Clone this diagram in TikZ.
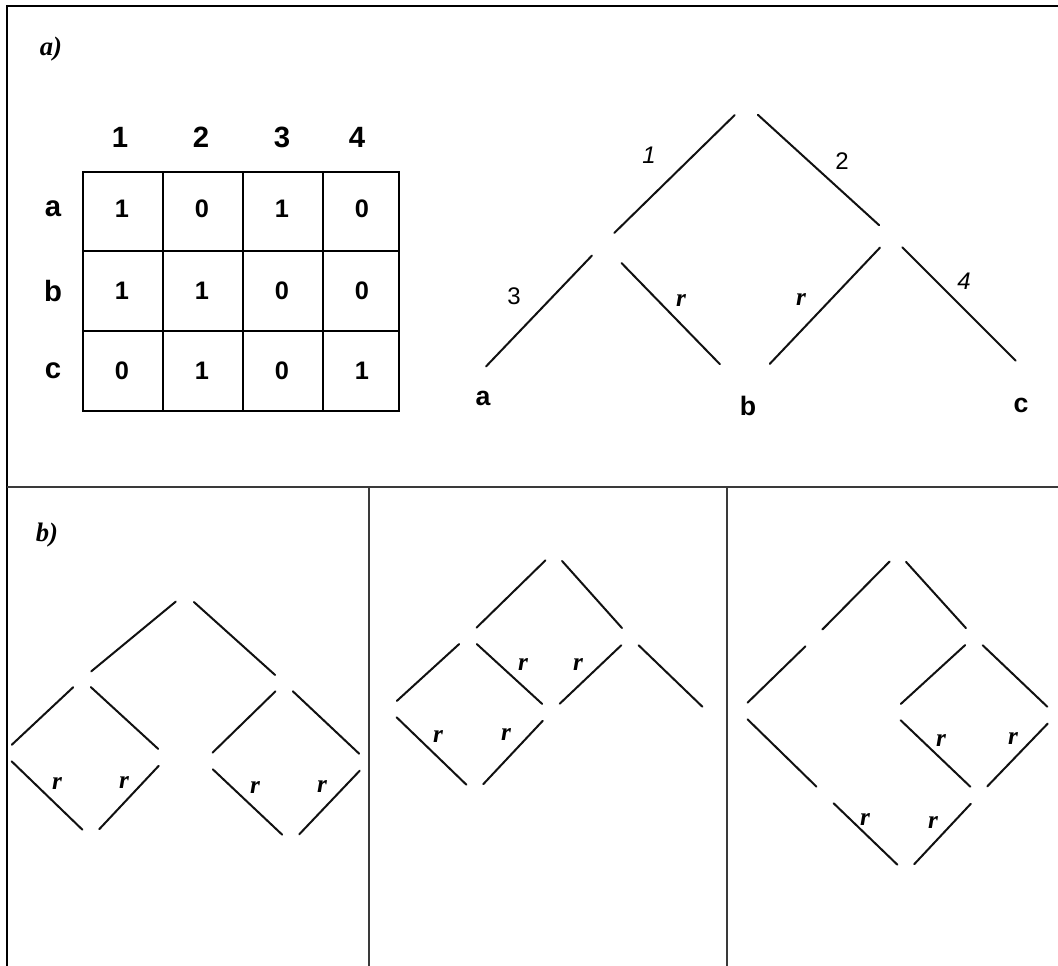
\documentclass[tikz,border=0pt]{standalone}
\usepackage{fontspec}
\setmainfont{Liberation Serif}
\setsansfont{Liberation Sans}
\usetikzlibrary{positioning}
\definecolor{cline}{HTML}{111111}
\definecolor{cgrid}{HTML}{3A3A3A}
\tikzset{
  every picture/.style={line width=1.2pt},
  frame/.style={draw=black, line width=#1},
  frame/.default=1.6pt,
  divider/.style={draw=cgrid, line width=1.5pt},
  edge/.style={draw=cline, line width=1.5pt, line cap=round, shorten <=#1, shorten >=#1},
  edge/.default=9pt,
  panel/.style={font=\rmfamily\bfseries\itshape\fontsize{20}{24}\selectfont},
  head/.style={font=\sffamily\bfseries\fontsize{22}{26}\selectfont},
  cell/.style={font=\sffamily\bfseries\fontsize{19}{22}\selectfont},
  leaf/.style={font=\sffamily\bfseries\fontsize{20}{24}\selectfont},
  num/.style={font=\sffamily\fontsize{18}{21}\selectfont},
  rlab/.style={font=\rmfamily\bfseries\itshape\fontsize{19}{22}\selectfont},
}

\begin{document}
\begin{tikzpicture}[x=0.75pt, y=-0.75pt]
  \useasboundingbox (0,0) rectangle (1058,966);
  % frame and panel dividers
  \draw[frame=2.2pt] (7,6) -- (1058,6);
  \draw[frame] (7,5) -- (7,966);
  \draw[divider] (7,487) -- (1058,487);
  \draw[divider] (369,487) -- (369,966);
  \draw[divider] (727,487) -- (727,966);
  \node[panel] (pa) at (51,49) {a)};
  \node[panel] (pb) at (47,535) {b)};

  % incidence table
  \draw (83,172) rectangle (399,411);
  \foreach \x in {163,243,323} \draw (\x,172) -- (\x,411);
  \foreach \y in {251,331} \draw (83,\y) -- (399,\y);
  \foreach \c/\x in {1/120,2/201,3/282,4/357}
    \node[head] (h\c) at (\x,137) {\c};
  \foreach \r/\y/\vals in {a/209/{1,0,1,0}, b/291/{1,1,0,0}, c/371/{0,1,0,1}} {
    \node[head] (row-\r) at (53,\y) {\r};
    \foreach \v [count=\c] in \vals
      \node[cell] (m-\r-\c) at ({42+80*\c},\y) {\v};
  }

  % tree of panel a
  \coordinate (t0) at (746,104);
  \coordinate (t1) at (603,244);
  \coordinate (t2) at (891,236);
  \coordinate (ta) at (475,378);
  \coordinate (tb) at (745,390);
  \coordinate (tc) at (1027,372);
  \draw[edge=12pt] (t0) -- (t1);
  \draw[edge=12pt] (t0) -- (t2);
  \draw[edge=12pt] (t1) -- (ta);
  \draw[edge=12pt, shorten <=20pt, shorten >=27pt] (t1) -- (tb);
  \draw[edge=12pt, shorten >=27pt] (t2) -- (tb);
  \draw[edge=12pt] (t2) -- (tc);
  \node[leaf] (la) at (483,398) {a};
  \node[leaf] (lb) at (748,406) {b};
  \node[leaf] (lc) at (1021,405) {c};
  \node[num] (n1) at (649,155) {\itshape 1};
  \node[num] (n2) at (842,161) {2};
  \node[num] (n3) at (514,296) {3};
  \node[num] (n4) at (964,281) {\itshape 4};
  \node[rlab] (ra1) at (681,301) {r};
  \node[rlab] (ra2) at (801,300) {r};

  % panel b, first graph
  \coordinate (p0) at (185,594);
  \coordinate (pL) at (82,679);
  \coordinate (pR) at (284,683);
  \coordinate (pLL) at (3,753);
  \coordinate (pLR) at (167,757);
  \coordinate (pRL) at (204,761);
  \coordinate (pRR) at (368,762);
  \coordinate (pLb) at (91,838);
  \coordinate (pRb) at (291,843);
  \foreach \u/\v in {p0/pL, p0/pR, pL/pLL, pL/pLR, pR/pRL, pR/pRR,
                     pLL/pLb, pLR/pLb, pRL/pRb, pRR/pRb}
    \draw[edge] (\u) -- (\v);

  % panel b, second graph
  \coordinate (q0) at (554,552);
  \coordinate (qA) at (468,636);
  \coordinate (qB) at (630,637);
  \coordinate (qC) at (388,709);
  \coordinate (qD) at (551,712);
  \coordinate (qE) at (711,715);
  \coordinate (qF) at (475,793);
  \foreach \u/\v in {q0/qA, q0/qB, qA/qC, qA/qD, qB/qD, qB/qE, qC/qF, qD/qF}
    \draw[edge] (\u) -- (\v);

  % panel b, third graph
  \coordinate (s0) at (898,553);
  \coordinate (sP) at (814,638);
  \coordinate (sQ) at (974,637);
  \coordinate (sPL) at (739,711);
  \coordinate (sQL) at (892,712);
  \coordinate (sQR) at (1056,715);
  \coordinate (sPM) at (825,795);
  \coordinate (sQM) at (979,795);
  \coordinate (sB) at (906,873);
  \foreach \u/\v in {s0/sP, s0/sQ, sP/sPL, sQ/sQL, sQ/sQR, sPL/sPM,
                     sQL/sQM, sQR/sQM, sPM/sB, sQM/sB}
    \draw[edge] (\u) -- (\v);

  % r marks
  \foreach \x/\y [count=\i] in {57/784, 124/783, 255/788, 322/787,
      523/665, 578/665, 438/737, 506/735,
      941/741, 1013/739, 865/820, 933/823}
    \node[rlab] (r\i) at (\x,\y) {r};
\end{tikzpicture}
\end{document}
